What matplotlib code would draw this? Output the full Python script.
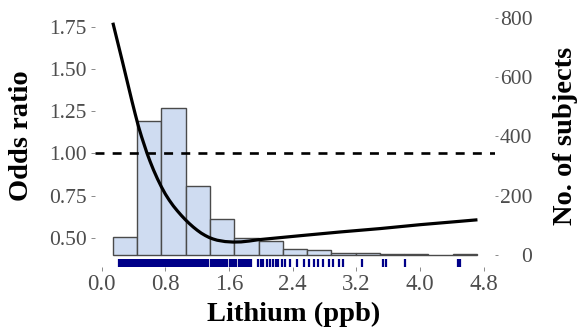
import matplotlib
matplotlib.use("Agg")
import matplotlib.pyplot as plt

plt.rcParams['font.family'] = ['Liberation Serif', 'DejaVu Serif']

# histogram of lithium concentration (counts per bin)
bin_edges = [0.14, 0.445, 0.75, 1.055, 1.36, 1.665, 1.97, 2.275, 2.58,
             2.885, 3.19, 3.495, 3.80, 4.105, 4.41, 4.715]
counts = [62, 452, 495, 233, 122, 58, 46, 21, 16, 8, 7, 4, 3, 1, 3]

# spline estimate of the odds ratio
lithium = [0.14, 0.26, 0.38, 0.42, 0.46, 0.50, 0.535, 0.57, 0.61, 0.65,
           0.70, 0.75, 0.80, 0.85, 0.90, 0.95, 1.00, 1.05, 1.10, 1.15,
           1.20, 1.25, 1.30, 1.35, 1.40, 1.45, 1.55, 1.65, 1.75, 1.85,
           1.97, 2.50, 3.00, 3.50, 4.00, 4.50, 4.72]
odds_ratio = [1.775, 1.545, 1.31, 1.235, 1.163, 1.10, 1.05, 1.00, 0.950,
              0.903, 0.850, 0.802, 0.759, 0.722, 0.689, 0.660, 0.633,
              0.608, 0.585, 0.564, 0.545, 0.528, 0.514, 0.502, 0.493,
              0.486, 0.478, 0.475, 0.476, 0.481, 0.489,
              0.513, 0.535, 0.555, 0.578, 0.598, 0.607]

# individual observations for the rug
rug_values = [0.22, 0.24, 0.26, 0.28, 0.30, 0.32, 0.34, 0.36, 0.38, 0.40,
              0.42, 0.44, 0.46, 0.48, 0.50, 0.52, 0.54, 0.56, 0.58, 0.60,
              0.62, 0.64, 0.66, 0.68, 0.70, 0.72, 0.74, 0.76, 0.78, 0.80,
              0.82, 0.84, 0.86, 0.88, 0.90, 0.92, 0.94, 0.96, 0.98, 1.00,
              1.02, 1.04, 1.06, 1.08, 1.10, 1.12, 1.14, 1.16, 1.18, 1.20,
              1.22, 1.24, 1.26, 1.28, 1.30, 1.32, 1.34, 1.37, 1.39, 1.41,
              1.43, 1.45, 1.47, 1.50, 1.52, 1.54, 1.56, 1.58, 1.61, 1.63,
              1.65, 1.67, 1.69, 1.72, 1.74, 1.76, 1.78, 1.80, 1.83, 1.85,
              1.87,
              1.967, 2.001, 2.03, 2.073, 2.114, 2.156, 2.19, 2.22, 2.26,
              2.30, 2.366, 2.45, 2.54, 2.61, 2.667, 2.72, 2.78, 2.85, 2.91,
              2.985, 3.03, 3.27, 3.53, 3.57, 3.81, 4.48, 4.50]

or_ticks = [0.50, 0.75, 1.00, 1.25, 1.50, 1.75]
count_ticks = [0, 200, 400, 600, 800]
x_ticks = [0.0, 0.8, 1.6, 2.4, 3.2, 4.0, 4.8]

fig = plt.figure(figsize=(5.83, 3.34), dpi=100)
ax = fig.add_axes([0.163, 0.201, 0.686, 0.778])
ax2 = ax.twinx()

# histogram sits behind the odds ratio curve
ax.set_zorder(ax2.get_zorder() + 1)
ax.patch.set_visible(False)
ax2.patch.set_facecolor('#f0f0f0')

widths = [bin_edges[i + 1] - bin_edges[i] for i in range(len(counts))]
ax2.bar(bin_edges[:-1], counts, width=widths, align='edge',
        color='#cfdcf1', edgecolor='#4a4a4a', linewidth=1.0)

ax.plot(lithium, odds_ratio, color='black', linewidth=2.3,
        solid_capstyle='butt', solid_joinstyle='round')
ax.axhline(1.0, color='black', linewidth=1.9, linestyle=(0, (3.4, 3.1)))
ax.vlines(rug_values, 0, 0.029, transform=ax.get_xaxis_transform(),
          color='#000088', linewidth=1.6)

ax.set_xlim(-0.084, 4.94)
ax.set_ylim(0.328, 1.868)
ax2.set_ylim(-40, 836)

ax.set_xticks(x_ticks)
ax.set_xticklabels(['%.1f' % v for v in x_ticks])
ax.set_yticks(or_ticks)
ax.set_yticklabels(['%.2f' % v for v in or_ticks])
ax2.set_yticks(count_ticks)
ax2.set_yticklabels([str(v) for v in count_ticks])

for a in (ax, ax2):
    for s in a.spines.values():
        s.set_visible(False)

ax.tick_params(axis='x', length=3, width=0.6, color='#777777',
               labelcolor='#4d4d4d', labelsize=16.5, pad=2)
ax.tick_params(axis='y', length=3, width=0.6, color='#777777',
               labelcolor='#4d4d4d', labelsize=15.5, pad=3)
ax2.tick_params(axis='y', length=2, width=0.6, color='#777777',
                labelcolor='#4d4d4d', labelsize=15.5, pad=25)
for lbl in ax2.get_yticklabels():
    lbl.set_horizontalalignment('right')

fig.text(294 / 583, 1 - 314 / 334, 'Lithium (ppb)', ha='center',
         va='center', fontsize=20.5, fontweight='bold')
fig.text(22 / 583, 1 - 136 / 334, 'Odds ratio', ha='center', va='center',
         rotation=90, fontsize=20.5, fontweight='bold')
fig.text(566 / 583, 1 - 136 / 334, 'No. of subjects', ha='center',
         va='center', rotation=90, fontsize=20.5, fontweight='bold')

fig.savefig('out.png', dpi=100)
